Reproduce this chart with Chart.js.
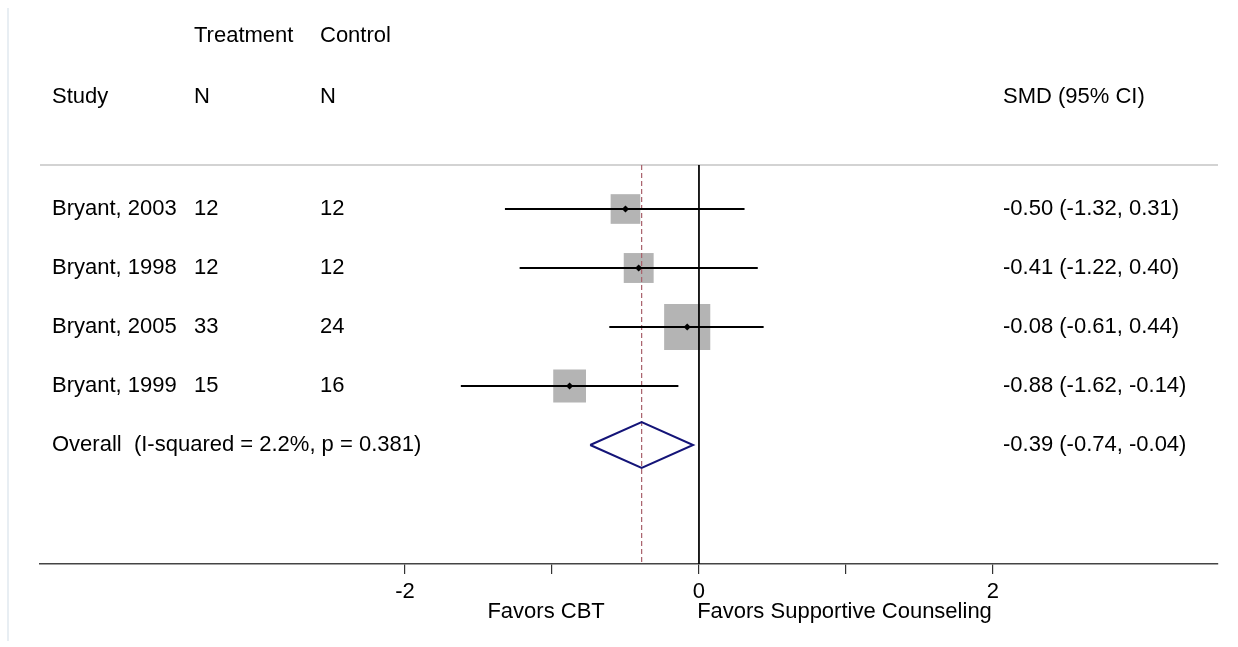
<!DOCTYPE html>
<html>
<head>
<meta charset="utf-8">
<script src="https://cdn.jsdelivr.net/npm/chart.js@4/dist/chart.umd.min.js"></script>
<style>
  html, body { margin: 0; padding: 0; background: #fff; }
  canvas { display: block; }
</style>
</head>
<body>
<canvas id="forest" width="1238" height="647"></canvas>
<script>
// Study data
const studies = ['Bryant, 2003', 'Bryant, 1998', 'Bryant, 2005', 'Bryant, 1999'];
const nTreatment = [12, 12, 33, 15];
const nControl = [12, 12, 24, 16];
const smd = [-0.50, -0.41, -0.08, -0.88];
const ciLow = [-1.32, -1.22, -0.61, -1.62];
const ciHigh = [0.31, 0.40, 0.44, -0.14];
const weights = [17.7, 18.0, 42.8, 21.6];

// Pooled estimate
const overallLabel = 'Overall  (I-squared = 2.2%, p = 0.381)';
const overallSmd = -0.39;
const overallLow = -0.74;
const overallHigh = -0.04;

// Axis
const tickValues = [-2, -1, 0, 1, 2];
const tickLabels = ['-2', '', '0', '', '2'];
const favorsLeft = 'Favors CBT';
const favorsRight = 'Favors Supportive Counseling';

// layout constants (y in row units, row 0 = first study)
const X_MIN = -4.483, X_MAX = 3.531;
const Y_MIN = -3.373, Y_MAX = 6.017;
const HEADER_LINE_Y = -0.746;
const overallRow = studies.length;
const FONT = '"Liberation Sans", Arial, sans-serif';
const FONT_SIZE = 22;

Chart.defaults.font.family = FONT;
Chart.defaults.font.size = FONT_SIZE;
Chart.defaults.color = '#000';

const datasets = [];

// header separator
datasets.push({
    type: 'line',
    data: [{ x: X_MIN, y: HEADER_LINE_Y }, { x: X_MAX, y: HEADER_LINE_Y }],
    borderColor: '#c4c4c4', borderWidth: 1.5, pointRadius: 0, order: 9
});

// weight boxes
datasets.push({
    type: 'scatter',
    data: smd.map((v, i) => ({ x: v, y: i })),
    pointStyle: 'rect',
    pointRadius: weights.map(w => 7.05 * Math.sqrt(w) / Math.SQRT2),
    backgroundColor: '#b4b4b4', borderWidth: 0, order: 8
});

// null line and overall dashed line
datasets.push({
    type: 'line',
    data: [{ x: 0, y: HEADER_LINE_Y }, { x: 0, y: Y_MAX }],
    borderColor: '#000', borderWidth: 1, pointRadius: 0, order: 5
});
datasets.push({
    type: 'line',
    data: [{ x: overallSmd, y: HEADER_LINE_Y }, { x: overallSmd, y: Y_MAX }],
    borderColor: '#a8606a', borderWidth: 1.2, borderDash: [5, 3], pointRadius: 0, order: 4
});

// confidence intervals
studies.forEach((s, i) => {
    datasets.push({
        type: 'line',
        data: [{ x: ciLow[i], y: i }, { x: ciHigh[i], y: i }],
        borderColor: '#000', borderWidth: 2, pointRadius: 0, order: 3
    });
});

// point estimates
datasets.push({
    type: 'scatter',
    data: smd.map((v, i) => ({ x: v, y: i })),
    pointStyle: 'rectRot', pointRadius: 3.6,
    backgroundColor: '#000', borderWidth: 0, order: 1
});

// pooled diamond
const dh = 0.39;
datasets.push({
    type: 'line',
    data: [
        { x: overallLow, y: overallRow },
        { x: overallSmd, y: overallRow - dh },
        { x: overallHigh, y: overallRow },
        { x: overallSmd, y: overallRow + dh },
        { x: overallLow, y: overallRow }
    ],
    borderColor: '#141478', borderWidth: 2, pointRadius: 0, fill: false,
    tension: 0, borderJoinStyle: 'miter', order: 2
});

// text columns and frame
const tablePlugin = {
    id: 'forestTable',
    beforeDraw(chart) {
        const ctx = chart.ctx;
        ctx.save();
        ctx.strokeStyle = '#e8eef3';
        ctx.lineWidth = 2;
        ctx.beginPath();
        ctx.moveTo(8, 8);
        ctx.lineTo(8, 641);
        ctx.stroke();
        ctx.restore();
    },
    afterDraw(chart) {
        const ctx = chart.ctx;
        const y = chart.scales.y;
        const x = chart.scales.x;
        ctx.save();
        ctx.font = `${FONT_SIZE}px ${FONT}`;
        ctx.fillStyle = '#000';
        ctx.textBaseline = 'middle';
        ctx.textAlign = 'left';

        const colStudy = 52, colTreat = 194, colCtrl = 320, colSmd = 1003;

        ctx.fillText('Treatment', colTreat, y.getPixelForValue(-2.93));
        ctx.fillText('Control', colCtrl, y.getPixelForValue(-2.93));
        ctx.fillText('Study', colStudy, y.getPixelForValue(-1.9));
        ctx.fillText('N', colTreat, y.getPixelForValue(-1.9));
        ctx.fillText('N', colCtrl, y.getPixelForValue(-1.9));
        ctx.fillText('SMD (95% CI)', colSmd, y.getPixelForValue(-1.9));

        const fmt = (e, l, h) => `${e.toFixed(2)} (${l.toFixed(2)}, ${h.toFixed(2)})`;
        studies.forEach((s, i) => {
            const py = y.getPixelForValue(i);
            ctx.fillText(s, colStudy, py);
            ctx.fillText(String(nTreatment[i]), colTreat, py);
            ctx.fillText(String(nControl[i]), colCtrl, py);
            ctx.fillText(fmt(smd[i], ciLow[i], ciHigh[i]), colSmd, py);
        });
        const po = y.getPixelForValue(overallRow);
        ctx.fillText(overallLabel, colStudy, po);
        ctx.fillText(fmt(overallSmd, overallLow, overallHigh), colSmd, po);

        // favours labels under the axis
        ctx.textAlign = 'center';
        ctx.fillText(favorsLeft, x.getPixelForValue(-1.04), 612);
        ctx.fillText(favorsRight, x.getPixelForValue(0.99), 612);
        ctx.restore();
    }
};

new Chart(document.getElementById('forest'), {
    data: { datasets },
    options: {
        responsive: false,
        animation: false,
        devicePixelRatio: 1,
        layout: { autoPadding: false, padding: { left: 40, right: 20, top: 10, bottom: 43 } },
        plugins: { legend: { display: false }, tooltip: { enabled: false } },
        scales: {
            x: {
                type: 'linear',
                position: 'bottom',
                min: X_MIN,
                max: X_MAX,
                afterBuildTicks: scale => { scale.ticks = tickValues.map(v => ({ value: v })); },
                afterFit: scale => { scale.height = 40; },
                ticks: {
                    padding: 5,
                    maxRotation: 0,
                    autoSkip: false,
                    color: '#000',
                    callback: v => tickLabels[tickValues.indexOf(v)] ?? ''
                },
                grid: { drawOnChartArea: false, drawTicks: true, tickLength: 10, color: '#333', lineWidth: 1.2 },
                border: { display: true, color: '#444', width: 1.5 }
            },
            y: {
                type: 'linear',
                display: false,
                reverse: true,
                min: Y_MIN,
                max: Y_MAX
            }
        }
    },
    plugins: [tablePlugin]
});
</script>
</body>
</html>
